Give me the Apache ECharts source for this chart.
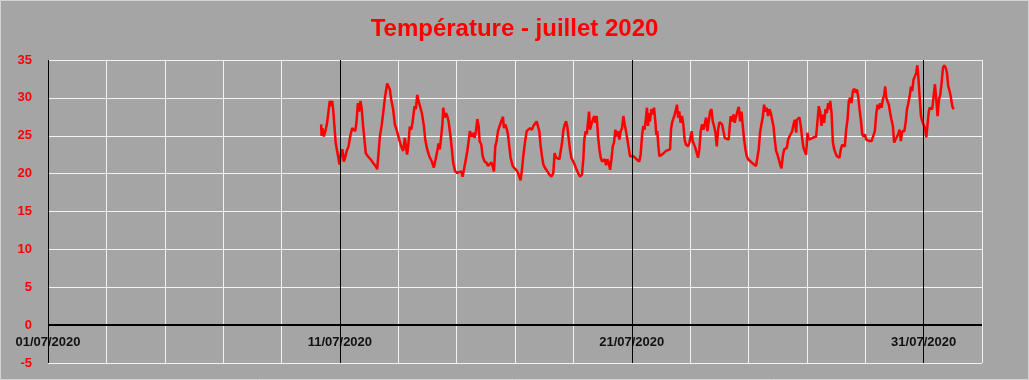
<!DOCTYPE html>
<html>
<head>
<meta charset="utf-8">
<script src="https://cdn.jsdelivr.net/npm/echarts@6/dist/echarts.min.js"></script>
<style>
html,body{margin:0;padding:0;background:#a5a5a5;}
#c{width:1029px;height:380px;}
</style>
</head>
<body>
<div id="c"></div>
<script>
// ---- data ----
const chartTitle = 'Température - juillet 2020';
const monthSuffix = '/07/2020';
// hours since 01/07/2020 00:00
const xMin = 0, xMax = 768, xStep = 48, majorStep = 240;
const majorLines = [0, 240, 480, 720];
const yMin = -5, yMax = 35, yStep = 5;
// [hour of month, temperature °C]
const tempReadings = [
[224.6,26.5],[224.9,25.0],[225.7,26.0],[226.8,24.9],[228.1,25.6],[229.5,26.7],[230.9,26.9],[231.7,29.6],[232.8,28.9],[233.6,29.6],
[234.5,28.5],[235.5,26.3],[236.6,24.0],[238.3,22.5],[239.7,21.2],[241.0,22.9],[242.1,23.2],[243.2,21.6],[244.3,22.1],[245.4,22.9],
[247.1,23.6],[248.7,25.1],[250.1,26.0],[251.5,26.2],[252.6,25.6],[253.7,26.9],[254.8,29.3],[255.8,28.2],[256.9,29.6],[258.0,28.5],
[259.1,26.3],[260.2,24.5],[261.3,22.7],[263.0,22.3],[265.2,21.9],[267.4,21.4],[269.3,21.0],[270.7,20.6],[271.8,22.7],[272.9,24.9],
[274.5,26.5],[275.6,28.0],[277.2,30.2],[278.9,31.9],[280.3,32.0],[281.1,31.1],[282.2,29.8],[283.8,28.5],[285.2,26.5],[286.6,25.8],
[287.7,25.6],[288.8,24.5],[290.4,23.6],[292.1,23.0],[293.4,24.7],[294.3,24.9],[295.3,22.5],[296.4,24.0],[297.5,26.2],[298.6,25.8],
[299.7,26.7],[301.4,28.9],[302.5,28.5],[303.6,30.4],[304.7,29.6],[305.8,29.8],[307.4,28.0],[309.1,26.3],[310.2,24.5],[311.8,23.2],
[313.5,22.3],[315.6,21.6],[317.3,20.8],[318.9,20.6],[320.0,22.9],[321.1,24.0],[322.2,23.2],[323.3,24.9],[324.4,26.7],[325.0,28.7],
[326.1,27.4],[327.2,28.0],[328.3,27.6],[329.4,26.9],[331.0,24.9],[332.1,23.2],[333.2,21.4],[334.8,20.3],[336.5,20.1],[338.1,19.9],
[339.8,20.3],[340.9,19.6],[342.5,19.4],[343.6,21.9],[344.7,22.9],[345.8,24.2],[346.9,25.6],[348.6,24.9],[350.2,25.4],
[350.8,24.7],[351.9,25.6],[353.0,27.2],[354.1,26.3],[354.9,24.3],[356.3,23.8],[357.4,22.3],[359.0,21.6],[360.7,21.4],[361.8,21.0],
[362.9,21.2],[364.5,21.5],[365.6,21.0],[366.7,20.3],[367.8,23.6],[368.9,24.3],[370.0,25.6],[371.1,25.8],[372.2,26.7],[373.3,26.9],
[374.1,27.5],[374.9,26.0],[376.0,26.5],[377.1,26.0],[378.2,25.2],[379.3,23.6],[380.4,22.1],[382.1,21.0],[383.7,20.7],[385.4,20.4],
[386.5,20.1],[387.5,19.6],[388.6,19.1],[389.7,20.5],[390.8,22.3],[392.5,24.5],[393.6,25.6],[394.7,25.8],[396.3,26.0],[398.0,25.8],
[399.1,26.3],[400.7,26.5],[401.8,26.9],[402.9,27.1],[404.0,25.6],[405.1,23.6],[406.2,22.3],[407.3,21.2],[408.9,20.7],[410.6,20.3],
[412.2,19.9],[413.9,19.6],[415.5,20.1],[416.6,22.7],[417.7,22.1],[418.8,22.3],[420.5,21.9],[421.6,22.1],[422.7,24.1],[423.8,25.8],
[424.9,26.5],[426.0,26.9],[427.0,26.2],[428.1,24.7],[429.2,23.2],[430.3,22.1],[431.4,21.9],[432.5,21.4],[434.2,20.7],[435.8,20.1],
[437.5,19.6],[439.1,19.9],[440.2,21.9],[441.0,24.5],[442.1,25.6],[443.0,25.2],[444.1,26.9],[444.9,28.2],[445.7,25.8],[446.8,26.5],
[447.9,26.3],[449.0,27.6],[450.1,26.7],[451.2,27.6],[452.3,24.9],[453.4,23.2],[454.5,22.1],[455.6,21.6],[456.7,21.4],[457.8,21.9],
[458.9,21.1],[460.0,21.9],[461.1,21.4],[462.2,20.5],[463.3,21.9],[464.4,23.6],[465.4,24.1],[466.5,25.8],[467.6,24.9],[468.7,25.6],
[469.8,24.5],[470.9,25.6],[472.0,26.0],[473.1,27.6],[474.2,26.5],[475.3,25.6],[476.4,24.5],[477.5,23.4],[478.6,22.3],[479.7,22.1],
[481.4,22.3],[483.0,22.5],
[484.0,21.9],[485.1,22.1],[486.2,21.6],[487.3,22.5],[488.4,24.9],[489.5,26.3],[490.6,25.8],[491.7,27.4],[492.5,28.7],[493.4,26.3],
[494.2,28.0],[495.0,26.9],[496.1,28.5],[497.2,27.8],[498.3,28.7],[499.4,26.9],[500.2,25.1],[501.0,25.6],[501.9,23.6],[502.7,22.3],
[503.8,22.1],[504.9,22.5],[506.5,22.5],[508.2,23.0],[509.8,23.0],[511.5,23.2],[512.3,25.8],[513.1,26.7],[514.2,26.5],[515.3,27.8],
[516.4,28.0],[517.2,29.1],[518.1,27.4],[519.1,28.2],[520.2,26.7],[521.3,27.6],[522.4,26.5],[523.5,24.5],[524.6,23.8],[526.3,23.6],
[527.4,24.1],[528.5,24.3],[529.3,25.6],[530.1,24.3],[531.2,24.1],[532.3,23.4],[533.4,23.6],[534.5,22.1],[535.6,23.2],[536.7,25.6],
[537.8,26.5],[538.9,25.8],[540.0,26.5],[541.1,27.4],[542.2,25.6],[543.3,26.9],[544.4,28.2],[545.5,28.5],[546.6,26.9],[547.7,26.3],
[548.8,25.4],[549.9,23.6],[551.0,25.8],[552.1,26.8],[553.2,26.9],[554.3,26.5],[555.4,25.6],[556.5,24.7],[558.1,24.7],[559.7,24.5],
[560.6,26.3],[561.4,27.6],[562.5,26.9],[563.6,27.8],[564.7,26.7],[565.8,27.6],[566.9,27.4],[568.0,28.8],[569.1,26.9],[570.2,28.2],
[571.3,26.3],[572.4,24.5],[573.5,23.2],[574.6,22.3],[575.7,21.9],[577.3,21.8],[579.0,21.4],[580.6,21.2],[582.2,21.0],[583.3,21.0],
[584.4,23.2],[585.5,25.4],[586.6,26.5],[587.7,27.4],[588.8,29.1],[589.9,28.2],[591.0,28.7],[592.1,27.6],[593.2,28.5],[594.3,28.0],
[595.4,28.2],[596.5,26.3],[597.6,24.5],[598.7,23.0],[599.8,22.5],[600.9,21.9],[602.0,21.2],[603.1,20.7],[604.2,22.3],[605.3,23.2],
[606.4,23.3],[607.5,23.4],[608.6,24.5],[609.7,24.9],[610.8,24.7],[611.9,25.6],[613.0,26.5],[614.1,27.1],
[615.2,25.4],[615.7,27.1],[616.8,26.9],[617.9,27.4],[619.0,26.3],[620.1,24.7],[621.2,23.4],[622.3,23.2],[623.4,22.5],[624.5,25.4],
[625.6,24.5],[626.7,24.7],[628.4,24.7],[630.0,24.7],[631.6,24.9],[632.7,26.9],[633.8,28.9],[634.9,28.2],[636.0,26.3],[637.1,27.8],
[638.2,26.7],[639.3,28.5],[640.4,28.0],[641.5,29.3],[642.3,28.5],[643.2,29.6],[644.3,28.0],[645.4,24.1],[646.5,23.2],[647.6,22.7],
[648.7,22.3],[649.8,22.3],[650.8,22.1],[651.9,23.2],[653.0,23.8],[654.1,23.6],[655.2,23.6],[656.3,25.8],[657.4,27.1],[658.5,29.6],
[659.6,30.0],[660.7,29.3],[661.8,30.9],[662.9,31.2],[664.0,30.7],[665.1,31.1],[666.2,30.2],[667.3,28.5],[668.4,27.1],[669.5,25.2],
[670.6,24.9],[671.7,25.2],[672.8,24.5],[673.9,24.7],[675.5,24.3],[677.2,24.3],[678.8,24.1],[679.9,25.6],[681.0,27.8],[682.1,29.1],
[683.2,28.5],[684.3,29.3],[685.4,28.7],[686.5,29.8],[687.6,30.4],[688.4,31.5],[689.3,30.0],[690.3,30.2],[691.4,29.1],[692.5,28.0],
[693.6,27.1],[694.7,26.3],[695.8,24.1],[696.9,24.5],[698.0,24.3],[699.1,25.2],[700.2,25.8],[701.3,24.3],[702.4,25.6],[704.1,25.6],
[705.2,26.7],[706.3,28.5],[707.4,29.3],[708.5,30.2],[709.6,31.5],[710.6,30.9],[711.7,32.4],[712.8,32.2],[713.9,33.3],[714.8,34.3],
[715.6,32.9],[716.7,30.2],[717.8,27.6],[718.9,26.9],[720.0,27.1],[721.1,26.0],[722.2,24.8],[723.3,24.9],[724.1,28.0],[724.9,28.7],
[726.0,28.9],[727.1,28.5],[728.2,28.5],[729.3,31.8],[730.4,29.8],[731.5,27.6],[732.6,29.8],[733.7,30.4],[734.8,32.0],[735.9,34.0],
[737.0,34.3],[738.1,34.0],[739.2,33.3],[740.3,31.5],[741.4,30.9],[742.5,30.0],[743.6,28.9],[744.7,28.5]
];

// ---- chart ----
const chart = echarts.init(document.getElementById('c'), null, {renderer: 'canvas'});
const lblFont = '"Liberation Sans", Arial, sans-serif';
chart.setOption({
  backgroundColor: '#a5a5a5',
  animation: false,
  title: {
    text: chartTitle, left: 'center', top: 12,
    textStyle: {color: '#ff0000', fontSize: 24, fontWeight: 'bold', fontFamily: lblFont}
  },
  graphic: [{
    type: 'rect', shape: {x: 0.5, y: 0.5, width: 1028, height: 379},
    style: {fill: 'none', stroke: '#d4d4d4', lineWidth: 1}, silent: true
  }],
  grid: {left: 48, right: 47, top: 60, bottom: 17, containLabel: false, outerBoundsMode: 'none'},
  xAxis: {
    type: 'value', min: xMin, max: xMax, interval: xStep,
    axisLine: {show: false, onZero: false},
    axisTick: {show: false},
    splitLine: {show: true, lineStyle: {color: '#f2f2f2', width: 1}},
    axisLabel: {
      interval: 0, margin: -27, color: '#111', fontSize: 13, fontWeight: 'bold', fontFamily: lblFont,
      formatter: v => (v % majorStep === 0 && v < xMax) ? String(v / 24 + 1).padStart(2, '0') + monthSuffix : ''
    }
  },
  yAxis: {
    type: 'value', min: yMin, max: yMax, interval: yStep,
    axisLine: {show: false}, axisTick: {show: false},
    splitLine: {show: true, lineStyle: {color: '#f2f2f2', width: 1}},
    axisLabel: {color: '#ff0000', fontSize: 13, fontWeight: 'bold', fontFamily: lblFont, margin: 16}
  },
  series: [
    {
      type: 'line', data: [], z: 1, silent: true,
      markLine: {
        silent: true, symbol: 'none', label: {show: false},
        lineStyle: {color: '#000', width: 1, type: 'solid'},
        data: majorLines.map(v => ({xAxis: v})).concat([{yAxis: 0, lineStyle: {width: 2}}])
      }
    },
    {
      type: 'line', data: tempReadings, showSymbol: false, z: 3,
      lineStyle: {color: '#ff0000', width: 2.5},
      itemStyle: {color: '#ff0000'}
    }
  ]
});
</script>
</body>
</html>
